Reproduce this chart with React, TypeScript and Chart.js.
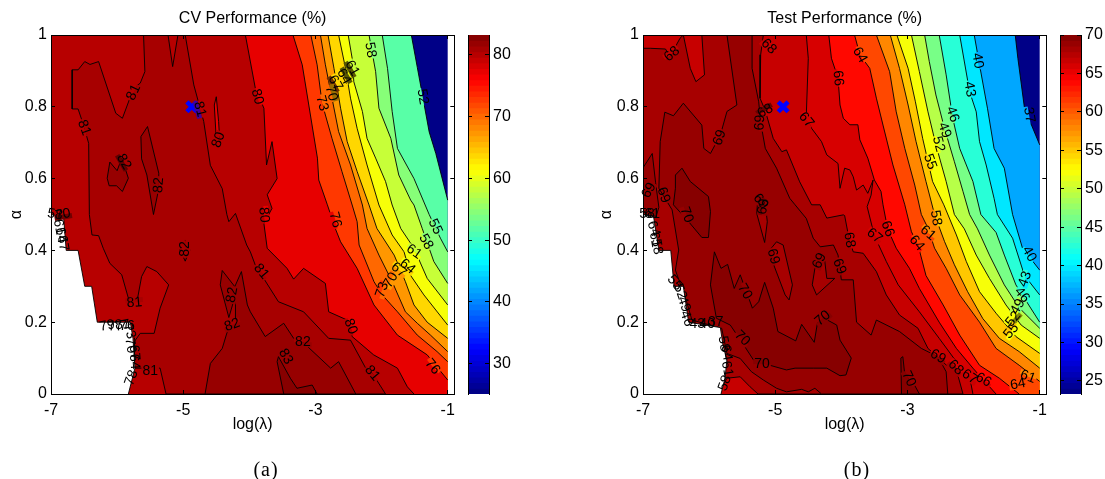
import React, { useEffect, useRef } from "react";
import { Chart, registerables } from "chart.js";
Chart.register(...registerables);

type P = [number, number];
type Lab = [string, number, number, number];

const xTickValues = [-7, -5, -3, -1];
const yTickValues = [0, 0.2, 0.4, 0.6, 0.8, 1];
const xMin = -7;
const xMax = -0.9;

// ---------- CV performance ----------
const cvRange = [25.1, 83.2];
const cvBarTicks = [30, 40, 50, 60, 70, 80];
const cvBest: P = [-4.87, 0.8];
const cv52: P[] = [[-1.55,1],[-1.46,.91],[-1.36,.81],[-1.28,.73],[-1.18,.67],[-1,.54]];
const cv55: P[] = [[-1.99,1],[-1.91,.907],[-1.84,.787],[-1.76,.684],[-1.51,.6],[-1.28,.5],[-1.11,.434],[-1,.396]];
const cv58: P[] = [[-2.19,1],[-2.09,.898],[-2.04,.796],[-1.86,.712],[-1.74,.61],[-1.56,.54],[-1.51,.5265],[-1.385,.461],[-1.21,.369],[-1,.308]];
const cv61: P[] = [[-2.505,1],[-2.445,.935],[-2.42,.87],[-2.29,.787],[-2.22,.712],[-2.09,.657],[-1.94,.592],[-1.84,.5265],[-1.71,.461],[-1.51,.406],[-1.31,.322],[-1,.248]];
const cv64: P[] = [[-2.65,1],[-2.545,.907],[-2.47,.824],[-2.37,.74],[-2.22,.638],[-2.04,.5265],[-1.84,.443],[-1.66,.396],[-1.56,.33],[-1.36,.276],[-1,.192]];
const cv67: P[] = [[-2.81,1],[-2.72,.907],[-2.62,.796],[-2.52,.703],[-2.37,.62],[-2.19,.5265],[-2.07,.461],[-1.81,.387],[-1.64,.313],[-1.51,.248],[-1.31,.2],[-1,.155]];
const cv70: P[] = [[-2.925,1],[-2.85,.917],[-2.75,.824],[-2.65,.731],[-2.47,.638],[-2.29,.5265],[-2.22,.461],[-2.04,.387],[-1.84,.313],[-1.64,.229],[-1.46,.197],[-1.26,.164],[-1,.118]];
const cv73: P[] = [[-3.07,1],[-2.975,.917],[-2.9,.81],[-2.75,.712],[-2.6,.62],[-2.445,.5265],[-2.37,.48],[-2.34,.415],[-2.115,.313],[-1.99,.276],[-1.76,.229],[-1.46,.164],[-1.16,.118],[-1,.09]];
const cv76: P[] = [[-3.34,1],[-3.2,.917],[-2.97,.657],[-2.95,.596],[-2.82,.527],[-2.7,.461],[-2.62,.424],[-2.37,.35],[-2.115,.248],[-1.76,.164],[-1.31,.109],[-1,.039]];
const cv80: P[] = [[-4.06,1],[-3.91,.852],[-3.78,.796],[-3.74,.638],[-3.657,.703],[-3.58,.6],[-3.73,.555],[-3.657,.517],[-3.78,.475],[-3.73,.406],[-3.43,.35],[-3.33,.32],[-3.18,.35],[-2.85,.308],[-2.8,.229],[-2.52,.206],[-2.445,.16],[-2.12,.109],[-1.76,.072],[-1.61,.02],[-1.51,0]];
const cv80Hole: P[] = [[-4.5,.828],[-4.53,.805],[-4.5,.708],[-4.45,.712],[-4.465,.759],[-4.5,.828]];
const cv81: P[] = [[-5.6,1],[-5.58,.898],[-5.65,.866],[-5.75,.852],[-5.92,.768],[-6.02,.782],[-6.28,.926],[-6.41,.918],[-6.49,.926],[-6.59,.903],[-6.68,.903],[-6.68,.794],[-6.59,.794],[-6.51,.75],[-6.43,.698],[-6.42,.5],[-6.38,.443],[-6.28,.441],[-6.21,.406],[-6.11,.364],[-5.93,.332],[-5.83,.267],[-5.7,.257],[-5.63,.327],[-5.55,.355],[-5.4,.341],[-5.22,.304],[-5.35,.239],[-5.44,.169],[-5.65,.169],[-5.74,.146],[-5.74,.072],[-5.35,.072],[-5.26,0],[-1.94,0],[-2.14,.058],[-2.24,.072],[-2.47,.15],[-2.8,.155],[-3.18,.229],[-3.56,.257],[-3.91,.359],[-3.985,.396],[-4.04,.415],[-4.21,.503],[-4.31,.48],[-4.34,.5],[-4.41,.572],[-4.59,.637],[-4.69,.759],[-4.84,.861],[-4.97,1],[-5.08,1],[-5.16,.912],[-5.23,1],[-5.6,1]];
const cv82A: P[] = [[-5.54,.745],[-5.64,.717],[-5.63,.655],[-5.55,.61],[-5.45,.5],[-5.37,.572],[-5.37,.615],[-5.54,.745]];
const cv82B: P[] = [[-6.11,.646],[-6.0,.622],[-5.93,.657],[-5.83,.601],[-5.92,.564],[-6.01,.58],[-6.12,.58],[-6.15,.601],[-6.11,.646]];
const cv82C: P[] = [[-4.67,0],[-4.59,.085],[-4.41,.127],[-4.31,.188],[-4.21,.206],[-4.21,.276],[-4.31,.213],[-4.44,.304],[-4.41,.344],[-4.22,.299],[-4.12,.341],[-4.03,.248],[-3.985,.229],[-3.76,.16],[-3.48,.197],[-3.33,.155],[-3.2,.146],[-2.77,.072],[-2.65,.09],[-2.39,0],[-4.67,0]];
const cv82D: P[] = [[-4.97,.429],[-5.05,.401],[-4.97,.37],[-4.9,.401],[-4.97,.429]];
const cv83: P[] = [[-3.48,0],[-3.58,.09],[-3.56,.104],[-3.38,.044],[-3.28,.016],[-3.05,.025],[-2.975,0],[-3.48,0]];
const cvMissing: P[] = [[-7,.5],[-6.81,.494],[-6.77,.4],[-6.59,.4],[-6.49,.3],[-6.385,.3],[-6.3,.2],[-5.8,.2],[-5.76,.155],[-5.73,.072],[-5.83,0],[-7,0],[-7,.5]];
const cvLabels: Lab[] = [
  ["81",-5.75,.84,-65],["81",-6.5,.742,70],["81",-4.75,.793,75],["80",-4.465,.708,-70],["82",-5.9,.647,60],["82",-5.37,.582,-85],
  ["82",-4.97,.404,-90],["81",-5.74,.254,-5],["81",-5.5,.065,0],["82",-4.26,.276,-80],["82",-4.26,.192,-20],["81",-3.82,.341,50],
  ["82",-3.19,.144,0],["83",-3.45,.104,60],["81",-2.14,.058,50],["80",-2.47,.188,70],["76",-2.7,.485,75],["76",-1.23,.076,50],
  ["73",-1.99,.29,-70],["70",-1.86,.317,-60],["67",-1.74,.345,40],["64",-1.61,.355,40],["61",-1.51,.396,35],["58",-1.33,.424,60],["55",-1.19,.466,65],
  ["80",-3.78,.499,85],["58",-2.17,.958,80],["61",-2.445,.907,60],["64",-2.57,.884,60],["67",-2.7,.866,60],["70",-2.76,.838,75],["73",-2.9,.81,75],
  ["52",-1.38,.828,80],["80",-3.88,.828,75],
  ["58",-6.94,.5,10],["70",-6.82,.5,-10],["61",-6.88,.465,80],["64",-6.85,.442,80],["67",-6.82,.42,80],
  ["79",-6.15,.19,-10],["78",-6.03,.19,-10],["77",-5.92,.19,-10],["76",-5.85,.19,0],["73",-5.82,.175,70],["70",-5.8,.135,80],["67",-5.74,.115,85],["64",-5.74,.09,85],["78",-5.78,.045,-70],
];

// ---------- Test performance ----------
const testRange = [23.3, 70];
const testBarTicks = [25, 30, 35, 40, 45, 50, 55, 60, 65, 70];
const testBest: P = [-4.88, 0.8];
const t37: P[] = [[-1.37,1],[-1.33,.935],[-1.23,.796],[-1,.694]];
const t40: P[] = [[-1.99,1],[-1.91,.917],[-1.79,.796],[-1.69,.684],[-1.535,.629],[-1.41,.5],[-1.26,.406],[-1,.345]];
const t43: P[] = [[-2.21,1],[-2.06,.842],[-1.96,.786],[-1.91,.703],[-1.81,.638],[-1.69,.545],[-1.64,.5],[-1.41,.434],[-1.23,.33],[-1,.276]];
const t46: P[] = [[-2.52,1],[-2.415,.889],[-2.315,.768],[-2.21,.684],[-2.01,.592],[-1.89,.5],[-1.66,.45],[-1.535,.387],[-1.36,.304],[-1,.2]];
const t49: P[] = [[-2.74,1],[-2.67,.926],[-2.57,.833],[-2.44,.74],[-2.29,.647],[-2.16,.564],[-2.06,.5],[-1.94,.46],[-1.76,.387],[-1.535,.304],[-1.31,.24],[-1,.183]];
const t52: P[] = [[-2.94,1],[-2.82,.898],[-2.69,.786],[-2.57,.694],[-2.415,.592],[-2.29,.5],[-2.14,.46],[-1.96,.387],[-1.76,.322],[-1.51,.248],[-1.28,.192],[-1,.155]];
const t55: P[] = [[-3.16,1],[-2.99,.907],[-2.88,.814],[-2.77,.712],[-2.62,.592],[-2.45,.527],[-2.26,.443],[-2.11,.369],[-1.91,.285],[-1.66,.225],[-1.36,.16],[-1,.113]];
const t58: P[] = [[-3.26,1],[-3.12,.907],[-2.99,.805],[-2.87,.703],[-2.72,.592],[-2.59,.5],[-2.44,.425],[-2.29,.36],[-2.09,.285],[-1.86,.21],[-1.61,.155],[-1.31,.118],[-1,.072]];
const t61: P[] = [[-3.47,1],[-3.27,.898],[-3.17,.786],[-3.04,.684],[-2.89,.582],[-2.79,.5],[-2.69,.462],[-2.59,.406],[-2.415,.35],[-2.21,.276],[-1.91,.2],[-1.66,.127],[-1.31,.08],[-1,.035]];
const t64: P[] = [[-3.8,1],[-3.72,.945],[-3.57,.907],[-3.47,.824],[-3.37,.749],[-3.22,.638],[-3.04,.527],[-2.94,.452],[-2.84,.415],[-2.72,.33],[-2.46,.248],[-2.21,.164],[-1.91,.08],[-1.61,.044],[-1.31,0]];
const t66: P[] = [[-4.19,1],[-4.15,.935],[-4.05,.88],[-4.02,.805],[-3.97,.768],[-3.87,.75],[-3.75,.75],[-3.72,.708],[-3.6,.657],[-3.5,.596],[-3.4,.564],[-3.37,.527],[-3.3,.46],[-3.17,.406],[-2.97,.35],[-2.82,.294],[-2.52,.2],[-2.26,.127],[-2.01,.072],[-1.85,.039],[-1.66,0]];
const t67: P[] = [[-4.53,1],[-4.5,.935],[-4.53,.777],[-4.45,.74],[-4.3,.703],[-4.22,.666],[-4.05,.642],[-4.02,.573],[-3.95,.629],[-3.87,.624],[-3.82,.605],[-3.77,.568],[-3.67,.582],[-3.6,.559],[-3.52,.596],[-3.55,.554],[-3.61,.522],[-3.5,.441],[-3.32,.369],[-3.14,.304],[-2.82,.229],[-2.52,.155],[-2.26,.09],[-2.06,.048],[-2.01,0]];
const t68: P[] = [[-7,.963],[-6.89,.963],[-6.66,.961],[-6.59,.94],[-6.44,.991],[-6.39,1],[-6.285,.907],[-6.2,.87],[-6.07,.889],[-6.11,1],[-5.18,1],[-5.22,.945],[-5.23,.889],[-5.23,.824],[-5.15,.789],[-5.03,.712],[-4.9,.675],[-4.83,.68],[-4.63,.591],[-4.45,.527],[-4.32,.527],[-4.22,.49],[-3.97,.499],[-3.95,.497],[-3.88,.429],[-3.82,.396],[-3.67,.392],[-3.47,.341],[-3.32,.276],[-3.12,.22],[-2.84,.183],[-2.69,.127],[-2.415,.081],[-2.27,.074],[-2.16,0],[-5.26,0],[-5.38,.02],[-5.53,.048],[-5.73,.044],[-5.8,.02],[-7,.0],[-7,.963]];
const t69: P[] = [[-5.73,1],[-5.58,.805],[-5.73,.787],[-5.83,.721],[-5.98,.67],[-6.08,.684],[-6.11,.749],[-6.39,.81],[-6.54,.775],[-6.67,.785],[-6.74,.703],[-6.76,.573],[-6.56,.513],[-6.46,.401],[-6.51,.345],[-6.34,.257],[-6.26,.206],[-5.81,.183],[-5.73,.113],[-5.53,.099],[-5.36,.062],[-5.18,.039],[-4.98,.016],[-4.83,.006],[-4.6,.013],[-4.5,.006],[-4.4,.016],[-4.3,0],[-2.39,0],[-2.415,.062],[-2.54,.104],[-2.79,.127],[-3.12,.174],[-3.47,.206],[-3.55,.164],[-3.77,.2],[-3.82,.318],[-4,.318],[-4.05,.387],[-4.12,.415],[-4.32,.41],[-4.425,.434],[-4.53,.489],[-4.7,.527],[-4.78,.545],[-4.98,.629],[-5.15,.684],[-5.22,.756],[-5.25,.814],[-5.35,.907],[-5.35,1],[-5.73,1]];
const t69Strip: P[] = [[-7,.63],[-6.86,.67],[-6.81,.59],[-6.76,.52],[-6.8,.495],[-7,.5],[-7,.63]];
const t69Hole1: P[] = [[-4.98,.424],[-5.1,.397],[-4.85,.276],[-4.79,.262],[-4.74,.304],[-4.88,.415],[-4.98,.424]];
const t69Hole2: P[] = [[-4.32,.387],[-4.4,.35],[-4.44,.304],[-4.375,.276],[-4.1,.322],[-4.22,.322],[-4.25,.369],[-4.32,.387]];
const t69Hole3: P[] = [[-5.28,.503],[-5.16,.422],[-5.12,.48],[-5.15,.527],[-5.27,.527],[-5.28,.503]];
const t70A: P[] = [[-6.51,.61],[-6.41,.629],[-6.285,.592],[-6.01,.55],[-5.98,.508],[-6.01,.436],[-6.11,.436],[-6.31,.48],[-6.54,.527],[-6.51,.573],[-6.51,.61]];
const t70B: P[] = [[-5.92,.396],[-5.82,.35],[-5.72,.361],[-5.62,.294],[-5.53,.332],[-5.455,.294],[-5.345,.239],[-5.25,.257],[-5.16,.311],[-5.03,.239],[-4.96,.174],[-4.69,.148],[-4.6,.194],[-4.41,.144],[-4.35,.211],[-4.28,.213],[-4.07,.192],[-4.02,.15],[-3.85,.1],[-3.93,.053],[-4.02,.051],[-4.22,.072],[-4.425,.072],[-4.7,.072],[-4.83,.067],[-5.1,.081],[-5.33,.095],[-5.51,.146],[-5.68,.192],[-5.89,.211],[-5.98,.304],[-5.92,.396]];
const t70C: P[] = [[-3.1,.1],[-3.07,.104],[-3.04,.053],[-2.92,.034],[-2.82,0],[-3.09,0],[-3.1,.1]];
const testMissing: P[] = [[-7,.5],[-6.84,.494],[-6.76,.4],[-6.58,.4],[-6.53,.3],[-6.39,.3],[-6.31,.2],[-5.83,.185],[-5.79,.136],[-5.73,.095],[-5.76,.044],[-5.82,0],[-7,0],[-7,.5]];
const testLabels: Lab[] = [
  ["68",-6.56,.947,-40],["68",-5.1,.968,45],["69",-5.84,.714,-70],["68",-5.15,.788,-30],["69",-5.23,.756,-85],["67",-4.53,.763,50],["66",-4.05,.88,85],
  ["69",-6.69,.554,70],["69",-6.91,.567,-60],["69",-5.22,.536,50],["70",-6.34,.499,70],["69",-5.03,.383,75],["70",-5.46,.285,60],["69",-4.33,.371,-65],
  ["69",-4.03,.355,70],["70",-4.28,.211,-40],["70",-5.5,.155,45],["70",-5.2,.083,0],["69",-5.18,.522,-80],
  ["68",-3.88,.429,80],["67",-3.5,.441,40],["66",-3.3,.46,70],["64",-2.86,.42,50],["61",-2.69,.448,40],["58",-2.57,.49,80],["69",-2.54,.104,30],["68",-2.27,.074,45],
  ["67",-2.06,.048,35],["66",-1.85,.039,30],["64",-1.33,.027,-10],["61",-1.18,.048,20],["70",-2.98,.042,65],["40",-1.16,.39,60],["43",-1.22,.32,-70],["46",-1.27,.276,50],
  ["49",-1.33,.243,-60],["52",-1.4,.209,-50],["55",-1.43,.175,-50],["64",-3.72,.944,60],["40",-1.94,.928,80],["43",-2.06,.849,80],["46",-2.32,.779,70],["49",-2.44,.735,70],
  ["52",-2.53,.696,75],["55",-2.66,.647,70],["37",-1.16,.777,80],
  ["58",-6.94,.5,0],["61",-6.86,.5,0],["64",-6.84,.46,70],["61",-6.82,.43,80],["58",-6.79,.41,80],
  ["55",-6.52,.31,50],["52",-6.44,.285,70],["49",-6.38,.25,70],["46",-6.34,.21,70],["43",-6.18,.195,0],["40",-6.03,.195,0],["37",-5.9,.2,0],
  ["58",-5.78,.14,80],["64",-5.74,.115,80],["61",-5.73,.07,80],["58",-5.76,.03,-70],
];

const cvBands: { level: number; line: P[]; open?: boolean }[] = [
  { level: 52, line: cv52, open: true }, { level: 55, line: cv55, open: true }, { level: 58, line: cv58, open: true },
  { level: 61, line: cv61, open: true }, { level: 64, line: cv64, open: true }, { level: 67, line: cv67, open: true },
  { level: 70, line: cv70, open: true }, { level: 73, line: cv73, open: true }, { level: 77, line: cv76, open: true },
  { level: 80, line: cv80, open: true }, { level: 77, line: cv80Hole }, { level: 81, line: cv81 }, { level: 82, line: cv82A },
  { level: 82, line: cv82B }, { level: 82, line: cv82C }, { level: 82, line: cv82D }, { level: 83, line: cv83 },
];
const testBands: { level: number; line: P[]; open?: boolean }[] = [
  { level: 37, line: t37, open: true }, { level: 40, line: t40, open: true }, { level: 43, line: t43, open: true },
  { level: 46, line: t46, open: true }, { level: 49, line: t49, open: true }, { level: 52, line: t52, open: true },
  { level: 55, line: t55, open: true }, { level: 58, line: t58, open: true }, { level: 61, line: t61, open: true },
  { level: 64, line: t64, open: true }, { level: 66, line: t66, open: true }, { level: 67, line: t67, open: true },
  { level: 68, line: t68 }, { level: 69, line: t69 }, { level: 69, line: t69Strip }, { level: 68, line: t69Hole1 },
  { level: 68, line: t69Hole2 }, { level: 68, line: t69Hole3 }, { level: 70, line: t70A }, { level: 70, line: t70B }, { level: 70, line: t70C },
];

const FONT = "'Liberation Sans', Arial, sans-serif";

function jet(f: number): string {
  const i = Math.max(0, Math.min(63, Math.floor(f * 64)));
  const t = (i + 0.5) / 64;
  const c = (v: number) => Math.round(255 * Math.max(0, Math.min(1, v)));
  return `rgb(${c(Math.min(4 * t - 1.5, -4 * t + 4.5))},${c(Math.min(4 * t - 0.5, -4 * t + 3.5))},${c(Math.min(4 * t + 0.5, -4 * t + 2.5))})`;
}

const pts = (a: P[]) => a.map(([x, y]) => ({ x, y }));
const shape = (a: P[], color: string) => ({
  data: pts(a), showLine: true, fill: "shape", backgroundColor: color, borderColor: color, borderWidth: 0.01, pointRadius: 0,
});
const stroke = (a: P[], color = "#000") => ({
  data: pts(a), showLine: true, fill: false, borderColor: color, borderWidth: 0.9, pointRadius: 0,
});
function closeOpen(a: P[]): P[] {
  const last = a[a.length - 1];
  const tail: P[] = last[0] === -1 ? [[-1, 0], [-7, 0], [-7, 1]] : [[-7, 0], [-7, 1]];
  return [...a, ...tail];
}

// Contour labels sit in a break of their line, as clabel does: the line under a
// label is painted over with the band colours found either side of it.
const labelPlugin = {
  id: "contourLabels",
  afterDatasetsDraw(chart: any, _a: any, opts: any) {
    const { ctx, scales } = chart;
    const items = opts.items as Lab[];
    const where = ([, x, y, angle]: Lab) => ({
      px: scales.x.getPixelForValue(x), py: scales.y.getPixelForValue(y), a: (angle * Math.PI) / 180,
    });
    ctx.save();
    ctx.font = `14px ${FONT}`;
    for (const item of items) {
      const { px, py, a } = where(item);
      const w = ctx.measureText(item[0]).width + 2;
      const read = (side: number) => ctx.getImageData(Math.round(px - Math.sin(a) * side * 7), Math.round(py + Math.cos(a) * side * 7), 1, 1).data;
      const sides: [number, any][] = [[-1, read(-1)], [1, read(1)]];
      if (sides.some(([, d]) => d[0] > 240 && d[1] > 240 && d[2] > 240)) continue;
      for (const [side, d] of sides) {
        if (d[0] + d[1] + d[2] < 90) continue;
        ctx.save();
        ctx.translate(px, py);
        ctx.rotate(a);
        ctx.fillStyle = `rgb(${d[0]},${d[1]},${d[2]})`;
        if (side < 0) ctx.fillRect(-w / 2, -5, w, 5);
        else ctx.fillRect(-w / 2, 0, w, 5);
        ctx.restore();
      }
    }
    ctx.fillStyle = "#000";
    ctx.textAlign = "center";
    ctx.textBaseline = "middle";
    for (const item of items) {
      const { px, py, a } = where(item);
      ctx.save();
      ctx.translate(px, py);
      ctx.rotate(a);
      ctx.fillText(item[0], 0, 0);
      ctx.restore();
    }
    ctx.restore();
  },
};

function setTicks(values: number[]) {
  return (s: any) => { s.ticks = values.map((value) => ({ value })); };
}

function frameAxis(extra: any) {
  return {
    border: { display: true, color: "#000", width: 1, z: 2 },
    grid: { z: 2, drawOnChartArea: false, drawTicks: true, tickLength: -4, tickColor: "#000", tickWidth: 1 },
    ...extra,
  };
}

function contourConfig(o: { title: string; range: number[]; bands: typeof cvBands; missing: P[]; best: P; labels: Lab[]; leftW: number; rightW: number }): any {
  const col = (lv: number) => jet((lv - o.range[0]) / (o.range[1] - o.range[0]));
  const ds: any[] = [shape([[-7, 0], [-1, 0], [-1, 1], [-7, 1]], col(o.range[0]))];
  for (const b of o.bands) {
    ds.push(shape(b.open ? closeOpen(b.line) : b.line, col(b.level)));
    ds.push(stroke(b.line));
  }
  ds.push(shape(o.missing, "#fff"));
  ds.push(stroke(o.missing.slice(0, o.missing.length - 2)));
  ds.push({ data: pts([o.best]), showLine: false, pointStyle: "crossRot", pointRadius: 7, pointBorderWidth: 4.5, borderColor: "#0000ff", backgroundColor: "#0000ff", pointBorderColor: "#0000ff" });
  const xBase = { type: "linear", min: xMin, max: xMax, afterBuildTicks: setTicks(xTickValues) };
  const yBase = { type: "linear", min: 0, max: 1, afterBuildTicks: setTicks(yTickValues) };
  const tickFont = { family: FONT, size: 16 };
  return {
    type: "scatter",
    data: { datasets: ds.reverse() },
    plugins: [labelPlugin],
    options: {
      responsive: false, animation: false,
      layout: { padding: 0, autoPadding: false },
      elements: { line: { tension: 0 } },
      plugins: { legend: { display: false }, tooltip: { enabled: false }, contourLabels: { items: o.labels } },
      scales: {
        x: frameAxis({ ...xBase, position: "bottom",
          afterFit: (s: any) => { s.height = 85; },
          ticks: { display: true, color: "#000", font: tickFont, padding: 11, maxRotation: 0, callback: (v: number) => String(v) },
          title: { display: true, text: "log(λ)", color: "#000", font: tickFont, padding: { top: 0, bottom: 45 } } }),
        x2: frameAxis({ ...xBase, position: "top",
          afterFit: (s: any) => { s.height = 35; },
          ticks: { display: false },
          title: { display: true, text: o.title, color: "#000", font: { family: FONT, size: 16 }, padding: { top: 9, bottom: 0 } } }),
        y: frameAxis({ ...yBase, position: "left",
          afterFit: (s: any) => { s.width = o.leftW; },
          ticks: { display: true, color: "#000", font: tickFont, padding: 8, callback: (v: number) => String(v) },
          title: { display: true, text: "α", color: "#000", font: tickFont, padding: { top: 7, bottom: 0 } } }),
        y2: frameAxis({ ...yBase, position: "right",
          afterFit: (s: any) => { s.width = o.rightW; },
          ticks: { display: false } }),
      },
    },
  };
}

function barConfig(range: number[], ticks: number[], rightW: number): any {
  const datasets: any[] = [];
  for (let i = 0; i < 64; i++) {
    const lo = range[0] + ((range[1] - range[0]) * i) / 64;
    datasets.push({ data: [[lo, range[1]]], backgroundColor: jet((i + 0.5) / 64), borderWidth: 0, barPercentage: 1, categoryPercentage: 1, grouped: false });
  }
  const yBase = { type: "linear", min: range[0], max: range[1], afterBuildTicks: setTicks(ticks) };
  return {
    type: "bar",
    data: { labels: [""], datasets: datasets.reverse() },
    options: {
      responsive: false, animation: false,
      layout: { padding: { top: 35, bottom: 85 }, autoPadding: false },
      plugins: { legend: { display: false }, tooltip: { enabled: false } },
      scales: {
        x: { display: false },
        x2: { display: false },
        y: frameAxis({ ...yBase, position: "right",
          afterFit: (s: any) => { s.width = rightW; },
          ticks: { display: true, color: "#000", font: { family: FONT, size: 16 }, padding: 8, callback: (v: number) => String(v) } }),
        y2: frameAxis({ ...yBase, position: "left",
          afterFit: (s: any) => { s.width = 8; },
          ticks: { display: false } }),
      },
    },
  };
}

function Panel({ left, width, config }: { left: number; width: number; config: any }) {
  const ref = useRef<HTMLCanvasElement>(null);
  useEffect(() => {
    const chart = new Chart(ref.current!, config);
    return () => chart.destroy();
  }, [config]);
  return <canvas ref={ref} width={width} height={479} style={{ position: "absolute", left, top: 0, width, height: 479, display: "block" }} />;
}

const cvConfig = contourConfig({ title: "CV Performance (%)", range: cvRange, bands: cvBands, missing: cvMissing, best: cvBest, labels: cvLabels, leftW: 51, rightW: 0 });
const testConfig = contourConfig({ title: "Test Performance (%)", range: testRange, bands: testBands, missing: testMissing, best: testBest, labels: testLabels, leftW: 53, rightW: 0 });
const cvBar = barConfig(cvRange, cvBarTicks, 41);
const testBar = barConfig(testRange, testBarTicks, 24);

const captionStyle: React.CSSProperties = { position: "absolute", top: 458, width: 60, textAlign: "center", font: "20px 'Liberation Serif', serif", letterSpacing: 1, color: "#000" };

export default function App() {
  return (
    <div style={{ position: "absolute", left: 0, top: 0, width: 1105, height: 479, overflow: "hidden", background: "#fff" }}>
      <Panel left={0} width={466} config={cvConfig} />
      <Panel left={460} width={70} config={cvBar} />
      <Panel left={590} width={468} config={testConfig} />
      <Panel left={1052} width={53} config={testBar} />
      <div style={{ ...captionStyle, left: 236 }}>(a)</div>
      <div style={{ ...captionStyle, left: 827 }}>(b)</div>
    </div>
  );
}
